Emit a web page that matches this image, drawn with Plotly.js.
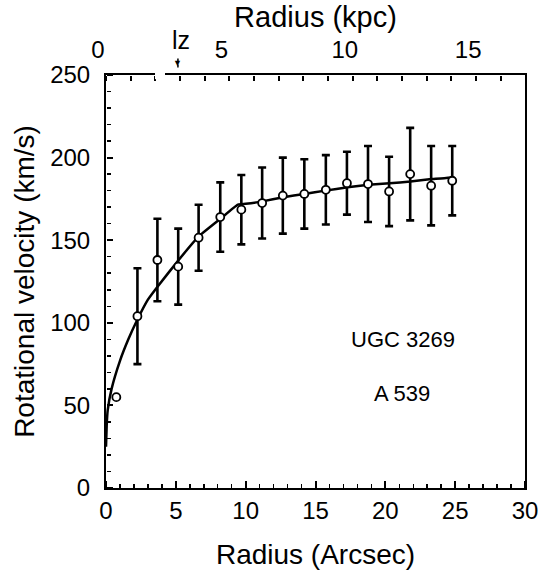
<!DOCTYPE html>
<html>
<head>
<meta charset="utf-8">
<script src="https://cdn.plot.ly/plotly-3.0.1.min.js"></script>
<style>html,body{margin:0;padding:0;background:#fff;}#chart{width:539px;height:571px;}</style>
</head>
<body>
<div id="chart"></div>
<script>
// Observed rotation velocities (arcsec, km/s)
const radiusArcsec = [0.74, 2.25, 3.68, 5.17, 6.63, 8.18, 9.69, 11.18, 12.66, 14.2, 15.74, 17.25, 18.76, 20.27, 21.78, 23.28, 24.79];
const velocity     = [55, 104, 138, 134, 151.5, 164, 168.5, 172.5, 177, 178, 180.5, 184.5, 184, 179.5, 190, 183, 186];
const velocityErr  = [null, 29, 25, 23, 20, 21, 21, 21.5, 23, 21, 21, 19, 23, 21, 28, 24, 21];
// Model curve
const curveX = [0, 0.05, 0.12, 0.4, 1.0, 1.6, 2.25, 3.0, 3.7, 5.2, 6.6, 8.2, 9.45, 10.0, 11.2, 12.7, 14.2, 15.7, 17.3, 18.8, 20.3, 21.8, 23.3, 24.8];
const curveY = [25, 38, 47, 60, 77, 90, 102, 114, 122, 138, 152, 163, 171.5, 172, 173.5, 176, 178, 180, 182, 183.5, 184.5, 185.5, 187, 188];
const kpcPerArcsec = 0.566;
const lzArcsec = 5.15;
const xRange = [0, 30];
const yRange = [0, 250];
const labelGalaxy = "UGC 3269";
const labelCluster = "A 539";

const FONT = "Liberation Sans, Arial, Helvetica, sans-serif";
const TICKFONT = "Liberation Sans Narrow, Arial Narrow, Liberation Sans, Arial, sans-serif";
const kpcRange = [0, xRange[1] * kpcPerArcsec];

const traces = [
  {x: curveX, y: curveY, mode: 'lines', line: {color: '#000', width: 2.5, shape: 'spline', smoothing: 0.4}, hoverinfo: 'skip', xaxis: 'x', yaxis: 'y'},
  {x: radiusArcsec, y: velocity, mode: 'markers',
   marker: {symbol: 'circle', size: 8, color: '#fff', line: {color: '#000', width: 1.8}},
   error_y: {type: 'data', array: velocityErr, visible: true, color: '#000', thickness: 2.6, width: 4},
   xaxis: 'x', yaxis: 'y'},
  {x: kpcRange, y: [null, null], mode: 'markers', xaxis: 'x2', yaxis: 'y', hoverinfo: 'skip'},
  {x: xRange, y: [null, null], mode: 'markers', xaxis: 'x3', yaxis: 'y', hoverinfo: 'skip'},
  {x: kpcRange, y: [null, null], mode: 'markers', xaxis: 'x4', yaxis: 'y', hoverinfo: 'skip'},
  {x: xRange, y: [null, null], mode: 'markers', xaxis: 'x', yaxis: 'y2', hoverinfo: 'skip'}
];

const layout = {
  width: 539, height: 571,
  margin: {l: 106, r: 14, t: 75, b: 83},
  paper_bgcolor: '#fff', plot_bgcolor: '#fff',
  showlegend: false,
  font: {family: FONT, color: '#000', size: 21},
  xaxis: {
    range: xRange, dtick: 5, tick0: 0, ticks: '',
    showline: true, linewidth: 2, linecolor: '#000', showgrid: false, zeroline: false,
    tickfont: {size: 24, family: TICKFONT},
    title: {text: 'Radius (Arcsec)', font: {size: 28, family: FONT}, standoff: 22}
  },
  // tick marks for bottom axis, pointing up into the plot
  xaxis3: {
    overlaying: 'x', side: 'top', anchor: 'free', position: 0,
    range: xRange, dtick: 5, tick0: 0, ticks: 'outside', ticklen: 7, tickwidth: 2, tickcolor: '#000',
    minor: {dtick: 1, ticks: 'outside', ticklen: 4, tickwidth: 1.5, tickcolor: '#000'},
    showticklabels: false, showline: false, showgrid: false, zeroline: false
  },
  xaxis2: {
    overlaying: 'x', side: 'top', anchor: 'y',
    range: kpcRange, dtick: 5, tick0: 0, ticks: '',
    showline: true, linewidth: 2, linecolor: '#000', showgrid: false, zeroline: false,
    tickfont: {size: 24, family: TICKFONT}, ticklabelshift: -8, ticklabelstandoff: 5,
    title: {text: 'Radius (kpc)', font: {size: 29, family: FONT}, standoff: 0}
  },
  // tick marks for top axis, pointing down into the plot
  xaxis4: {
    overlaying: 'x', side: 'bottom', anchor: 'free', position: 1,
    range: kpcRange, dtick: 1, tick0: 0, ticks: 'outside', ticklen: 5, tickwidth: 2, tickcolor: '#000',
    showticklabels: false, showline: false, showgrid: false, zeroline: false
  },
  yaxis: {
    range: yRange, dtick: 50, tick0: 0, ticks: '',
    showline: true, linewidth: 2, linecolor: '#000', mirror: true, showgrid: false, zeroline: false,
    tickfont: {size: 24, family: TICKFONT}, ticklabelstandoff: 9,
    title: {text: 'Rotational velocity (km/s)', font: {size: 28, family: FONT}, standoff: 7}
  },
  // tick marks for left axis, pointing right into the plot
  yaxis2: {
    overlaying: 'y', side: 'right', anchor: 'free', position: 0,
    range: yRange, dtick: 50, tick0: 0, ticks: 'outside', ticklen: 6, tickwidth: 2, tickcolor: '#000',
    minor: {dtick: 10, ticks: 'outside', ticklen: 4, tickwidth: 1.5, tickcolor: '#000'},
    showticklabels: false, showline: false, showgrid: false, zeroline: false
  },
  shapes: [
    {type: 'rect', xref: 'paper', yref: 'paper', x0: (155-106)/419, x1: (165-106)/419, y0: 0.99, y1: 1.01, fillcolor: '#fff', line: {width: 0}, layer: 'above'},
    {type: 'line', xref: 'x', yref: 'paper', x0: lzArcsec, x1: lzArcsec, y0: 1.018, y1: 1.045, line: {color: '#000', width: 1.5, dash: 'dot'}}
  ],
  annotations: [
    {xref: 'x', yref: 'paper', x: lzArcsec, y: 1.011, text: '▼', showarrow: false, font: {size: 9}, yanchor: 'bottom'},
    {xref: 'x', yref: 'paper', x: lzArcsec + 0.2, y: 1.045, text: 'lz', showarrow: false, font: {size: 25, family: FONT}, yanchor: 'bottom'},
    {xref: 'x', yref: 'y', x: 21.3, y: 90, text: labelGalaxy, showarrow: false, font: {size: 22, family: FONT}},
    {xref: 'x', yref: 'y', x: 21.2, y: 57, text: labelCluster, showarrow: false, font: {size: 22, family: FONT}}
  ]
};

Plotly.newPlot('chart', traces, layout, {staticPlot: true, displayModeBar: false});
</script>
</body>
</html>
